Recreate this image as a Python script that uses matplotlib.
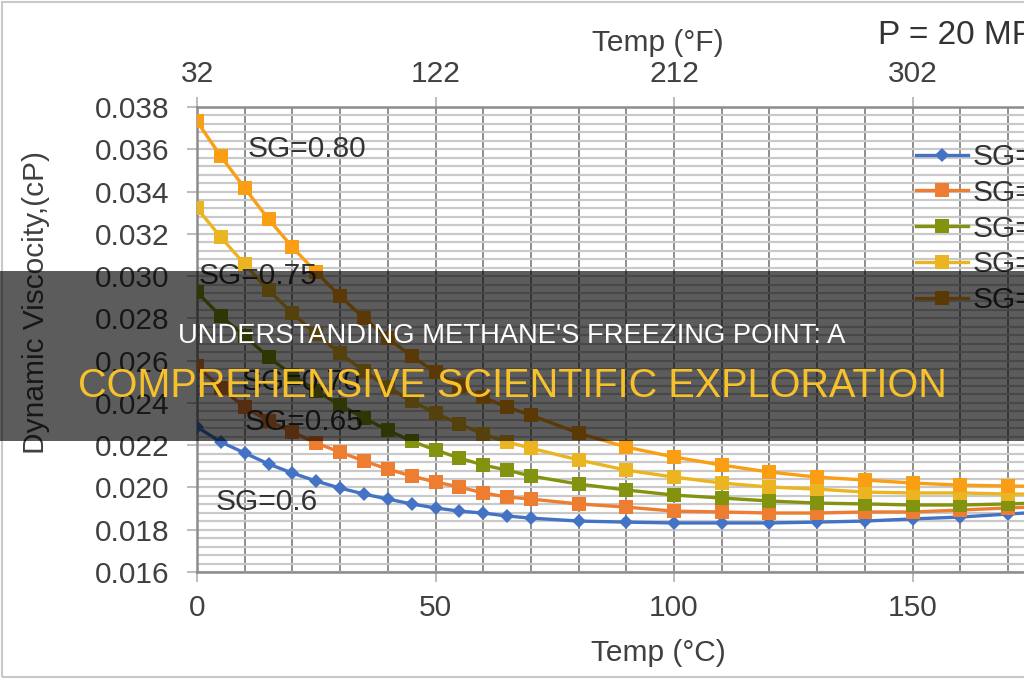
import matplotlib
matplotlib.use("Agg")
import matplotlib.pyplot as plt
from matplotlib.patches import Rectangle
from matplotlib.ticker import MultipleLocator, FormatStrFormatter

plt.rcParams['font.family'] = ['Liberation Sans', 'DejaVu Sans']

# temperature points (deg C)
temp_c = [0, 5, 10, 15, 20, 25, 30, 35, 40, 45, 50, 55, 60, 65, 70,
          80, 90, 100, 110, 120, 130, 140, 150, 160, 170, 180]

# dynamic viscosity (cP)
sg_060 = [0.02286, 0.02215, 0.02163, 0.02111, 0.02068, 0.02030, 0.01997, 0.01969,
          0.01945, 0.01922, 0.01903, 0.01888, 0.01879, 0.01865, 0.01855,
          0.01841, 0.01836, 0.01832, 0.01832, 0.01832, 0.01836, 0.01841,
          0.01851, 0.01860, 0.01874, 0.01888]
sg_065 = [0.02574, 0.02470, 0.02380, 0.02314, 0.02262, 0.02210, 0.02167, 0.02125,
          0.02087, 0.02054, 0.02026, 0.02002, 0.01974, 0.01955, 0.01945,
          0.01922, 0.01907, 0.01888, 0.01884, 0.01879, 0.01879, 0.01884,
          0.01884, 0.01893, 0.01903, 0.01912]
sg_070 = [0.02924, 0.02810, 0.02716, 0.02617, 0.02531, 0.02456, 0.02390, 0.02328,
          0.02271, 0.02219, 0.02177, 0.02139, 0.02106, 0.02082, 0.02054,
          0.02016, 0.01988, 0.01964, 0.01950, 0.01936, 0.01926, 0.01922,
          0.01917, 0.01917, 0.01922, 0.01930]
sg_075 = [0.03321, 0.03184, 0.03056, 0.02933, 0.02825, 0.02725, 0.02635, 0.02550,
          0.02475, 0.02408, 0.02352, 0.02300, 0.02252, 0.02215, 0.02186,
          0.02130, 0.02082, 0.02049, 0.02021, 0.02002, 0.01992, 0.01978,
          0.01974, 0.01974, 0.01969, 0.01968]
sg_080 = [0.03732, 0.03567, 0.03416, 0.03269, 0.03137, 0.03018, 0.02905, 0.02801,
          0.02706, 0.02621, 0.02546, 0.02479, 0.02427, 0.02380, 0.02342,
          0.02257, 0.02191, 0.02144, 0.02106, 0.02073, 0.02049, 0.02035,
          0.02021, 0.02011, 0.02007, 0.02004]

legend_labels = ["SG=0.6", "SG=0.65", "SG=0.7", "SG=0.75", "SG=0.8"]
f_ticks = [32, 122, 212, 302]

banner_line1 = "UNDERSTANDING METHANE'S FREEZING POINT: A"
banner_line2 = "COMPREHENSIVE SCIENTIFIC EXPLORATION"

txt = '#404040'
fs = 21.5

fig = plt.figure(figsize=(10.24, 6.8), dpi=100)
fig.patch.set_facecolor('white')

# axes runs past the right edge (picture is cropped)
ax = fig.add_axes([197 / 1024, 108 / 680, 954 / 1024, 465 / 680])
ax.set_xlim(0, 200)
ax.set_ylim(0.016, 0.038)

series = [
    (sg_060, '#4472C4', 'D', 7),
    (sg_065, '#ED7D31', 's', 9.5),
    (sg_070, '#84930F', 's', 9.5),
    (sg_075, '#EBB521', 's', 9.5),
    (sg_080, '#FA9E14', 's', 9.5),
]
for (vals, col, mk, ms), lab in zip(series, legend_labels):
    ax.plot(temp_c, vals, color=col, lw=2.4, marker=mk, markersize=ms,
            markeredgewidth=0, label=lab, zorder=3)

# grid
ax.xaxis.set_major_locator(MultipleLocator(50))
ax.xaxis.set_minor_locator(MultipleLocator(10))
ax.yaxis.set_major_locator(MultipleLocator(0.002))
ax.yaxis.set_minor_locator(MultipleLocator(0.0004))
ax.yaxis.set_major_formatter(FormatStrFormatter('%.3f'))
ax.grid(True, axis='y', which='both', color='#c9c9c9', lw=1.6, zorder=0)
ax.grid(True, axis='x', which='both', color='#858585', lw=1.3, zorder=0)
ax.set_axisbelow(True)

ax.spines['right'].set_visible(False)
for s in ['left', 'top', 'bottom']:
    ax.spines[s].set_color('#8c8c8c')
    ax.spines[s].set_linewidth(1.8)

ax.tick_params(axis='x', which='major', direction='out', length=7, width=1.2,
               color='#b0b0b0', labelsize=fs, labelcolor=txt, pad=9)
ax.tick_params(axis='y', which='major', direction='out', length=7, width=1.2,
               color='#b0b0b0', labelsize=fs, labelcolor=txt, pad=13)
ax.tick_params(which='minor', length=0)

secax = ax.secondary_xaxis('top', functions=(lambda c: c * 9 / 5 + 32,
                                             lambda f: (f - 32) * 5 / 9))
secax.set_xticks(f_ticks)
secax.tick_params(axis='x', which='major', direction='out', length=7, width=1.2,
                  color='#b0b0b0', labelsize=fs, labelcolor=txt, pad=7)
secax.tick_params(which='minor', length=0)
secax.spines['top'].set_visible(False)

# series labels
ax.text(10.6, 0.0360, "SG=0.80", fontsize=fs, color='#333333', va='center')
ax.text(0.3, 0.0300, "SG=0.75", fontsize=fs, color='#333333', va='center')
ax.text(9.4, 0.0250, "SG=0.70", fontsize=fs, color='#333333', va='center')
ax.text(10.0, 0.0231, "SG=0.65", fontsize=fs, color='#333333', va='center')
ax.text(3.8, 0.0193, "SG=0.6", fontsize=fs, color='#333333', va='center')

ax.legend(loc='upper left', bbox_to_anchor=(916 / 1024, 1 - 143 / 680),
          bbox_transform=fig.transFigure, frameon=False, fontsize=fs,
          handlelength=1.75, handletextpad=0.15, labelspacing=0.26,
          borderpad=0, borderaxespad=0, labelcolor='#333333')

# axis labels and pressure note
fig.text(658 / 1024, 1 - 653 / 680, "Temp (°C)", fontsize=fs, color=txt,
         ha='center', va='center')
fig.text(658 / 1024, 1 - 43 / 680, "Temp (°F)", fontsize=fs, color=txt,
         ha='center', va='center')
fig.text(36 / 1024, 1 - 303 / 680, "Dynamic Viscocity,(cP)", fontsize=fs,
         color=txt, rotation=90, ha='center', va='center')
fig.text(878 / 1024, 1 - 36 / 680, "P = 20 MPa", fontsize=24, color='#333333',
         ha='left', va='center')

# thin frame of the screenshot
fig.patches.append(Rectangle((2 / 1024, 3 / 680), 1.2, 675 / 680,
                             transform=fig.transFigure, fill=False,
                             edgecolor='#c8c8c8', lw=1.5))

# dark banner with title
fig.patches.append(Rectangle((0, 1 - 441 / 680), 1, 170 / 680,
                             transform=fig.transFigure, facecolor='black',
                             alpha=0.64, edgecolor='none', zorder=10))
fig.text(0.5, 1 - 343 / 680, banner_line1, fontsize=19.7, color='white',
         ha='center', va='baseline', zorder=11)
fig.text(0.5, 1 - 397 / 680, banner_line2, fontsize=28.5, color='#F7C12B',
         ha='center', va='baseline', zorder=11)

fig.savefig('out.png', dpi=100)
